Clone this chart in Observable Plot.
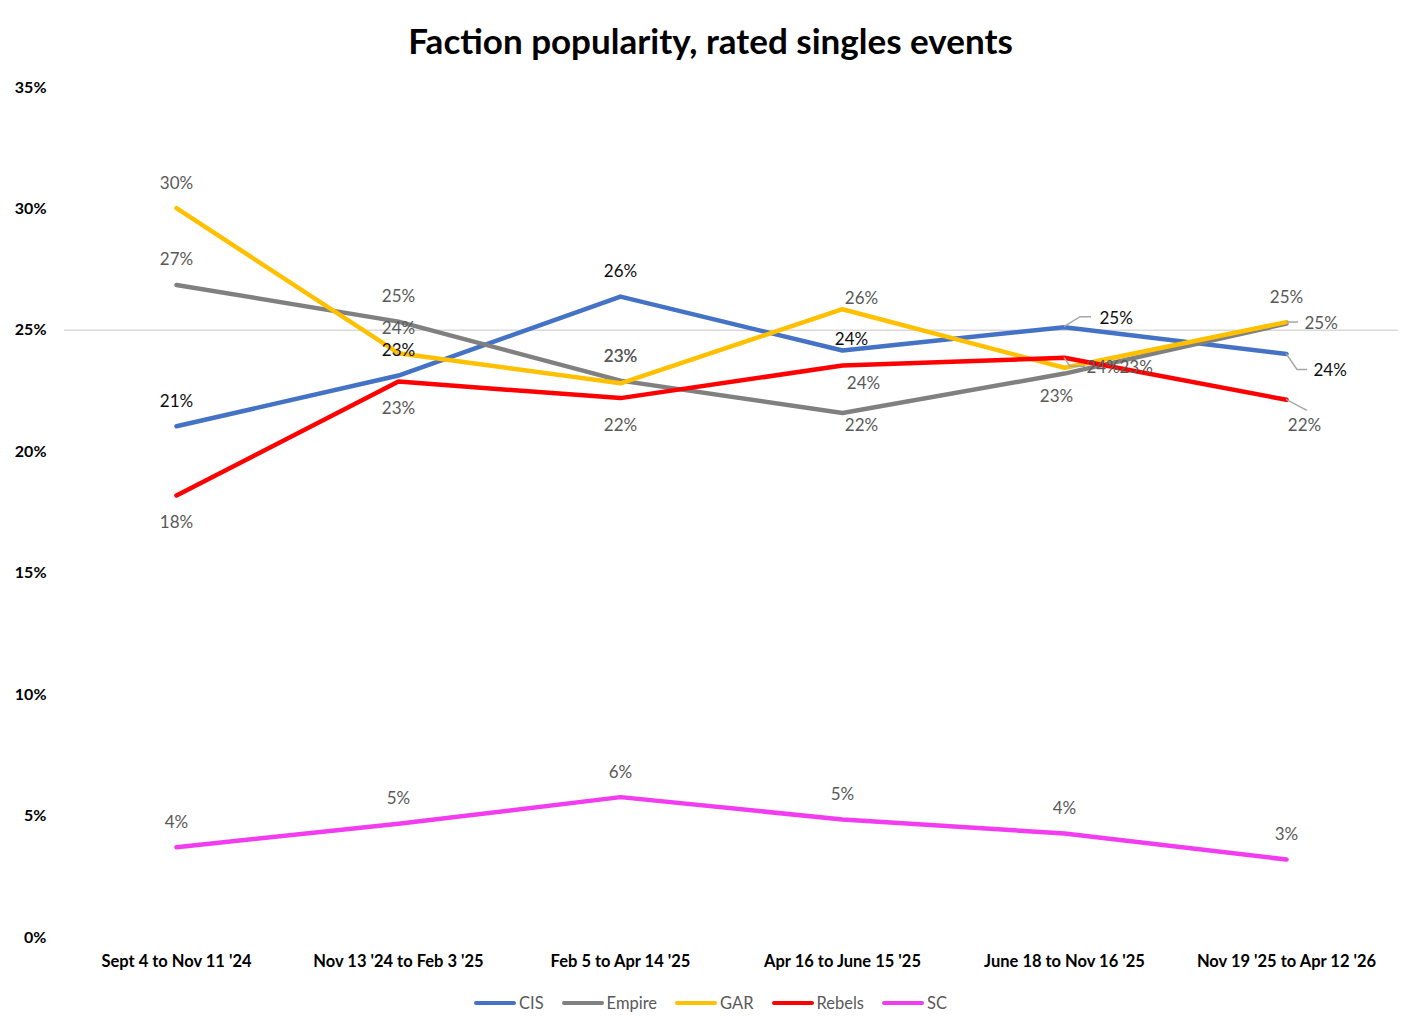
<!DOCTYPE html>
<html>
<head>
<meta charset="utf-8">
<script src="https://cdn.jsdelivr.net/npm/d3@7"></script>
<script src="https://cdn.jsdelivr.net/npm/@observablehq/plot@0.6"></script>
<style>
  html, body { margin: 0; padding: 0; background: #fff; }
  #wrap { position: relative; width: 1421px; height: 1033px; font-family: Lato, "Open Sans", sans-serif; }
  #title { position: absolute; left: 0; width: 1421px; top: 20px; text-align: center; font-weight: 700; font-size: 35px; color: #000; line-height: 40px; }
  #chart { position: absolute; left: 0; top: 66px; }
  #legend { position: absolute; left: 0; width: 1421px; top: 992px; height: 22px; display: flex; justify-content: center; align-items: center; gap: 18px; font-size: 16.5px; color: #595959; }
  .item { display: flex; align-items: center; gap: 3px; }
  .sw { width: 42px; height: 4px; border-radius: 2px; }
</style>
</head>
<body>
<div id="wrap">
  <div id="title">Faction popularity, rated singles events</div>
  <div id="chart"></div>
  <div id="legend"></div>
</div>
<script>
// ---- data ----
const periods = ["Sept 4 to Nov 11 '24", "Nov 13 '24 to Feb 3 '25", "Feb 5 to Apr 14 '25", "Apr 16 to June 15 '25", "June 18 to Nov 16 '25", "Nov 19 '25 to Apr 12 '26"];
const seriesNames = ["CIS", "Empire", "GAR", "Rebels", "SC"];
const cis    = [21.05, 23.14, 26.39, 24.17, 25.13, 24.03];
const empire = [26.87, 25.36, 22.93, 21.60, 23.22, 25.28];
const gar    = [30.03, 24.06, 22.82, 25.87, 23.46, 25.34];
const rebels = [18.20, 22.89, 22.21, 23.55, 23.87, 22.14];
const sc     = [3.72, 4.68, 5.78, 4.86, 4.28, 3.21];
const yTicks = [0, 5, 10, 15, 20, 25, 30, 35];
const gridValues = [25];

// ---- styling (kept separate from data) ----
const colors = ["#4472C4", "#808080", "#FFC000", "#FF0000", "#F23CF0"];
const labelColors = ["#0d0d0d", "#595959", "#595959", "#595959", "#595959"];
// label placement codes per series/point
const placementCodes = {
  CIS:    ["above", "above", "above", "aboveR1", "leaderUp", "leaderDown"],
  Empire: ["above", "above", "aboveMid", "belowR2", "belowL", "leaderFlat"],
  GAR:    ["above", "above", "aboveHi", "aboveR2", "farRight", "above"],
  Rebels: ["below", "below", "below", "belowR1", "leaderShort", "leaderDiag"],
  SC:     ["above", "above", "above", "above", "above", "above"]
};
const placements = {
  above:       {dx: 0,  dy: -25, anchor: "middle"},
  aboveMid:    {dx: 0,  dy: -24, anchor: "middle"},
  aboveHi:     {dx: 0,  dy: -26.5, anchor: "middle"},
  below:       {dx: 0,  dy: 27,  anchor: "middle"},
  aboveR1:     {dx: 9,  dy: -11, anchor: "middle"},
  aboveR2:     {dx: 19, dy: -11, anchor: "middle"},
  belowR1:     {dx: 21, dy: 18,  anchor: "middle"},
  belowR2:     {dx: 19, dy: 13,  anchor: "middle"},
  belowL:      {dx: -8, dy: 23,  anchor: "middle"},
  farRight:    {dx: 55, dy: 0,   anchor: "start"},
  leaderUp:    {dx: 35, dy: -9,  anchor: "start", leader: [[0,0],[16,-10],[27,-10]]},
  leaderDown:  {dx: 27, dy: 17,  anchor: "start", leader: [[0,0],[11,16],[21,16]]},
  leaderFlat:  {dx: 18, dy: 0,   anchor: "start", leader: [[0,-1],[12,-1]]},
  leaderShort: {dx: 22, dy: 10,  anchor: "start", leader: [[0,0],[6,9],[21,9]]},
  leaderDiag:  {dx: 18, dy: 26,  anchor: "middle", leader: [[0,0],[21,11]]}
};

// ---- build table ----
const valuesBySeries = {CIS: cis, Empire: empire, GAR: gar, Rebels: rebels, SC: sc};
const rows = [];
seriesNames.forEach((s, si) => {
  valuesBySeries[s].forEach((v, i) => {
    rows.push({series: s, period: periods[i], value: v, label: Math.round(v) + "%",
               code: placementCodes[s][i], color: labelColors[si]});
  });
});

const labelMarks = Object.entries(placements).map(([code, p]) =>
  Plot.text(rows.filter(r => r.code === code), {
    x: "period", y: "value", text: "label", fill: "color",
    dx: p.dx, dy: p.dy, textAnchor: p.anchor, fontSize: 17
  })
);

const chart = Plot.plot({
  width: 1421,
  height: 919,
  marginLeft: 64,
  marginRight: 23,
  marginTop: 21,
  marginBottom: 48,
  style: {fontFamily: "Lato, 'Open Sans', sans-serif", background: "transparent"},
  x: {type: "point", domain: periods, padding: 0.5, label: null},
  y: {domain: [0, 35], label: null},
  color: {domain: seriesNames, range: colors},
  marks: [
    Plot.gridY(gridValues, {stroke: "#d9d9d9", strokeOpacity: 1, strokeWidth: 1.5}),
    Plot.axisY(yTicks, {tickSize: 0, tickPadding: 18, tickFormat: d => d + "%", fontSize: 16, fontWeight: "bold", fill: "#000"}),
    Plot.axisX({tickSize: 0, tickPadding: 18, fontSize: 16.5, fontWeight: "bold", fill: "#000"}),
    Plot.line(rows, {x: "period", y: "value", z: "series", stroke: "series", strokeWidth: 4.5, strokeLinejoin: "round", strokeLinecap: "round"}),
    ...labelMarks
  ]
});
document.getElementById("chart").appendChild(chart);

// leader lines, positioned through the chart's own scales
const xs = chart.scale("x"), ys = chart.scale("y");
const svg = d3.select(chart);
rows.filter(r => placements[r.code].leader).forEach(r => {
  const px = xs.apply(r.period), py = ys.apply(r.value);
  const pts = placements[r.code].leader.map(([a, b]) => [px + a, py + b]);
  svg.append("path").attr("d", d3.line()(pts)).attr("fill", "none")
    .attr("stroke", "#a6a6a6").attr("stroke-width", 1.5);
});

// legend
const legend = d3.select("#legend");
seriesNames.forEach((s, i) => {
  const it = legend.append("div").attr("class", "item");
  it.append("div").attr("class", "sw").style("background", colors[i]);
  it.append("span").text(s);
});
</script>
</body>
</html>
